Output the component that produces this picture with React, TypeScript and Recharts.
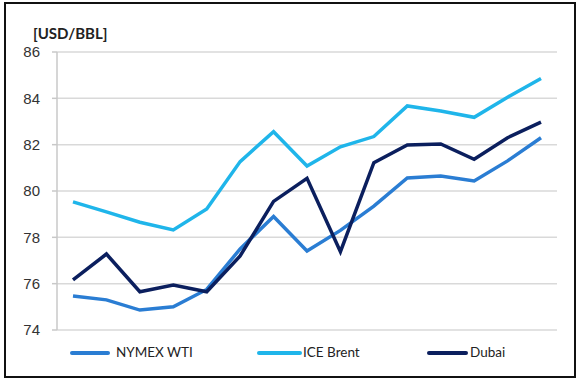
import React from 'react';
import { LineChart, Line, XAxis, YAxis, CartesianGrid } from 'recharts';

const periods = ['1', '2', '3', '4', '5', '6', '7', '8', '9', '10', '11', '12', '13', '14', '15'];
const nymexWti = [75.47, 75.3, 74.86, 75.0, 75.75, 77.5, 78.9, 77.41, 78.3, 79.35, 80.56, 80.65, 80.43, 81.3, 82.3];
const iceBrent = [79.53, 79.1, 78.65, 78.32, 79.22, 81.27, 82.56, 81.08, 81.91, 82.35, 83.67, 83.45, 83.18, 84.05, 84.86];
const dubai = [76.16, 77.28, 75.65, 75.94, 75.65, 77.2, 79.55, 80.55, 77.38, 81.22, 81.99, 82.03, 81.37, 82.3, 82.97];
const yTicks = [74, 76, 78, 80, 82, 84, 86];

const series = [
  { key: 'wti', name: 'NYMEX WTI', color: '#2A7DD3' },
  { key: 'brent', name: 'ICE Brent', color: '#1FB5EA' },
  { key: 'dubai', name: 'Dubai', color: '#0B1F5E' },
];

const data = periods.map((p, i) => ({
  period: p,
  wti: nymexWti[i],
  brent: iceBrent[i],
  dubai: dubai[i],
}));

const legendPos = [
  { lineLeft: 70, lineWidth: 40, textLeft: 116 },
  { lineLeft: 257, lineWidth: 45, textLeft: 303 },
  { lineLeft: 427, lineWidth: 41, textLeft: 470 },
];

const App: React.FC = () => {
  return (
    <div style={{ position: 'absolute', left: 0, top: 0, width: 580, height: 383, background: '#fff' }}>
      <div
        style={{
          position: 'absolute',
          left: 4,
          top: 2,
          width: 572,
          height: 376,
          boxSizing: 'border-box',
          border: '2px solid #111',
        }}
      />
      <div
        style={{
          position: 'absolute',
          left: 33,
          top: 24,
          fontFamily: 'Lato, sans-serif',
          fontWeight: 700,
          fontSize: 15,
          color: '#222',
        }}
      >
        [USD/BBL]
      </div>
      <div style={{ position: 'absolute', left: 0, top: 0 }}>
        <LineChart width={580} height={383} data={data} margin={{ top: 52, right: 23, bottom: 53, left: 0 }}>
          <CartesianGrid vertical={false} stroke="#d9d9d9" strokeWidth={1.5} />
          <XAxis dataKey="period" hide padding={{ left: 16, right: 16 }} />
          <YAxis
            width={57}
            domain={[74, 86]}
            ticks={yTicks}
            tickSize={5}
            tickMargin={12}
            axisLine={{ stroke: '#c8c8c8', strokeWidth: 1.5 }}
            tickLine={{ stroke: '#c8c8c8', strokeWidth: 1.5 }}
            tick={{ fill: '#333', fontSize: 15, fontFamily: '"Liberation Sans", Arial, sans-serif' }}
          />
          {series.map((s) => (
            <Line
              key={s.key}
              type="linear"
              dataKey={s.key}
              name={s.name}
              stroke={s.color}
              strokeWidth={3.5}
              dot={false}
              isAnimationActive={false}
            />
          ))}
        </LineChart>
      </div>
      {series.map((s, i) => (
        <React.Fragment key={s.key}>
          <div
            style={{
              position: 'absolute',
              left: legendPos[i].lineLeft,
              top: 351,
              width: legendPos[i].lineWidth,
              height: 4,
              borderRadius: 2,
              background: s.color,
            }}
          />
          <div
            style={{
              position: 'absolute',
              left: legendPos[i].textLeft,
              top: 344,
              fontFamily: 'Lato, sans-serif',
              fontSize: 13.5,
              color: '#222',
              whiteSpace: 'nowrap',
            }}
          >
            {s.name}
          </div>
        </React.Fragment>
      ))}
    </div>
  );
};

export default App;
